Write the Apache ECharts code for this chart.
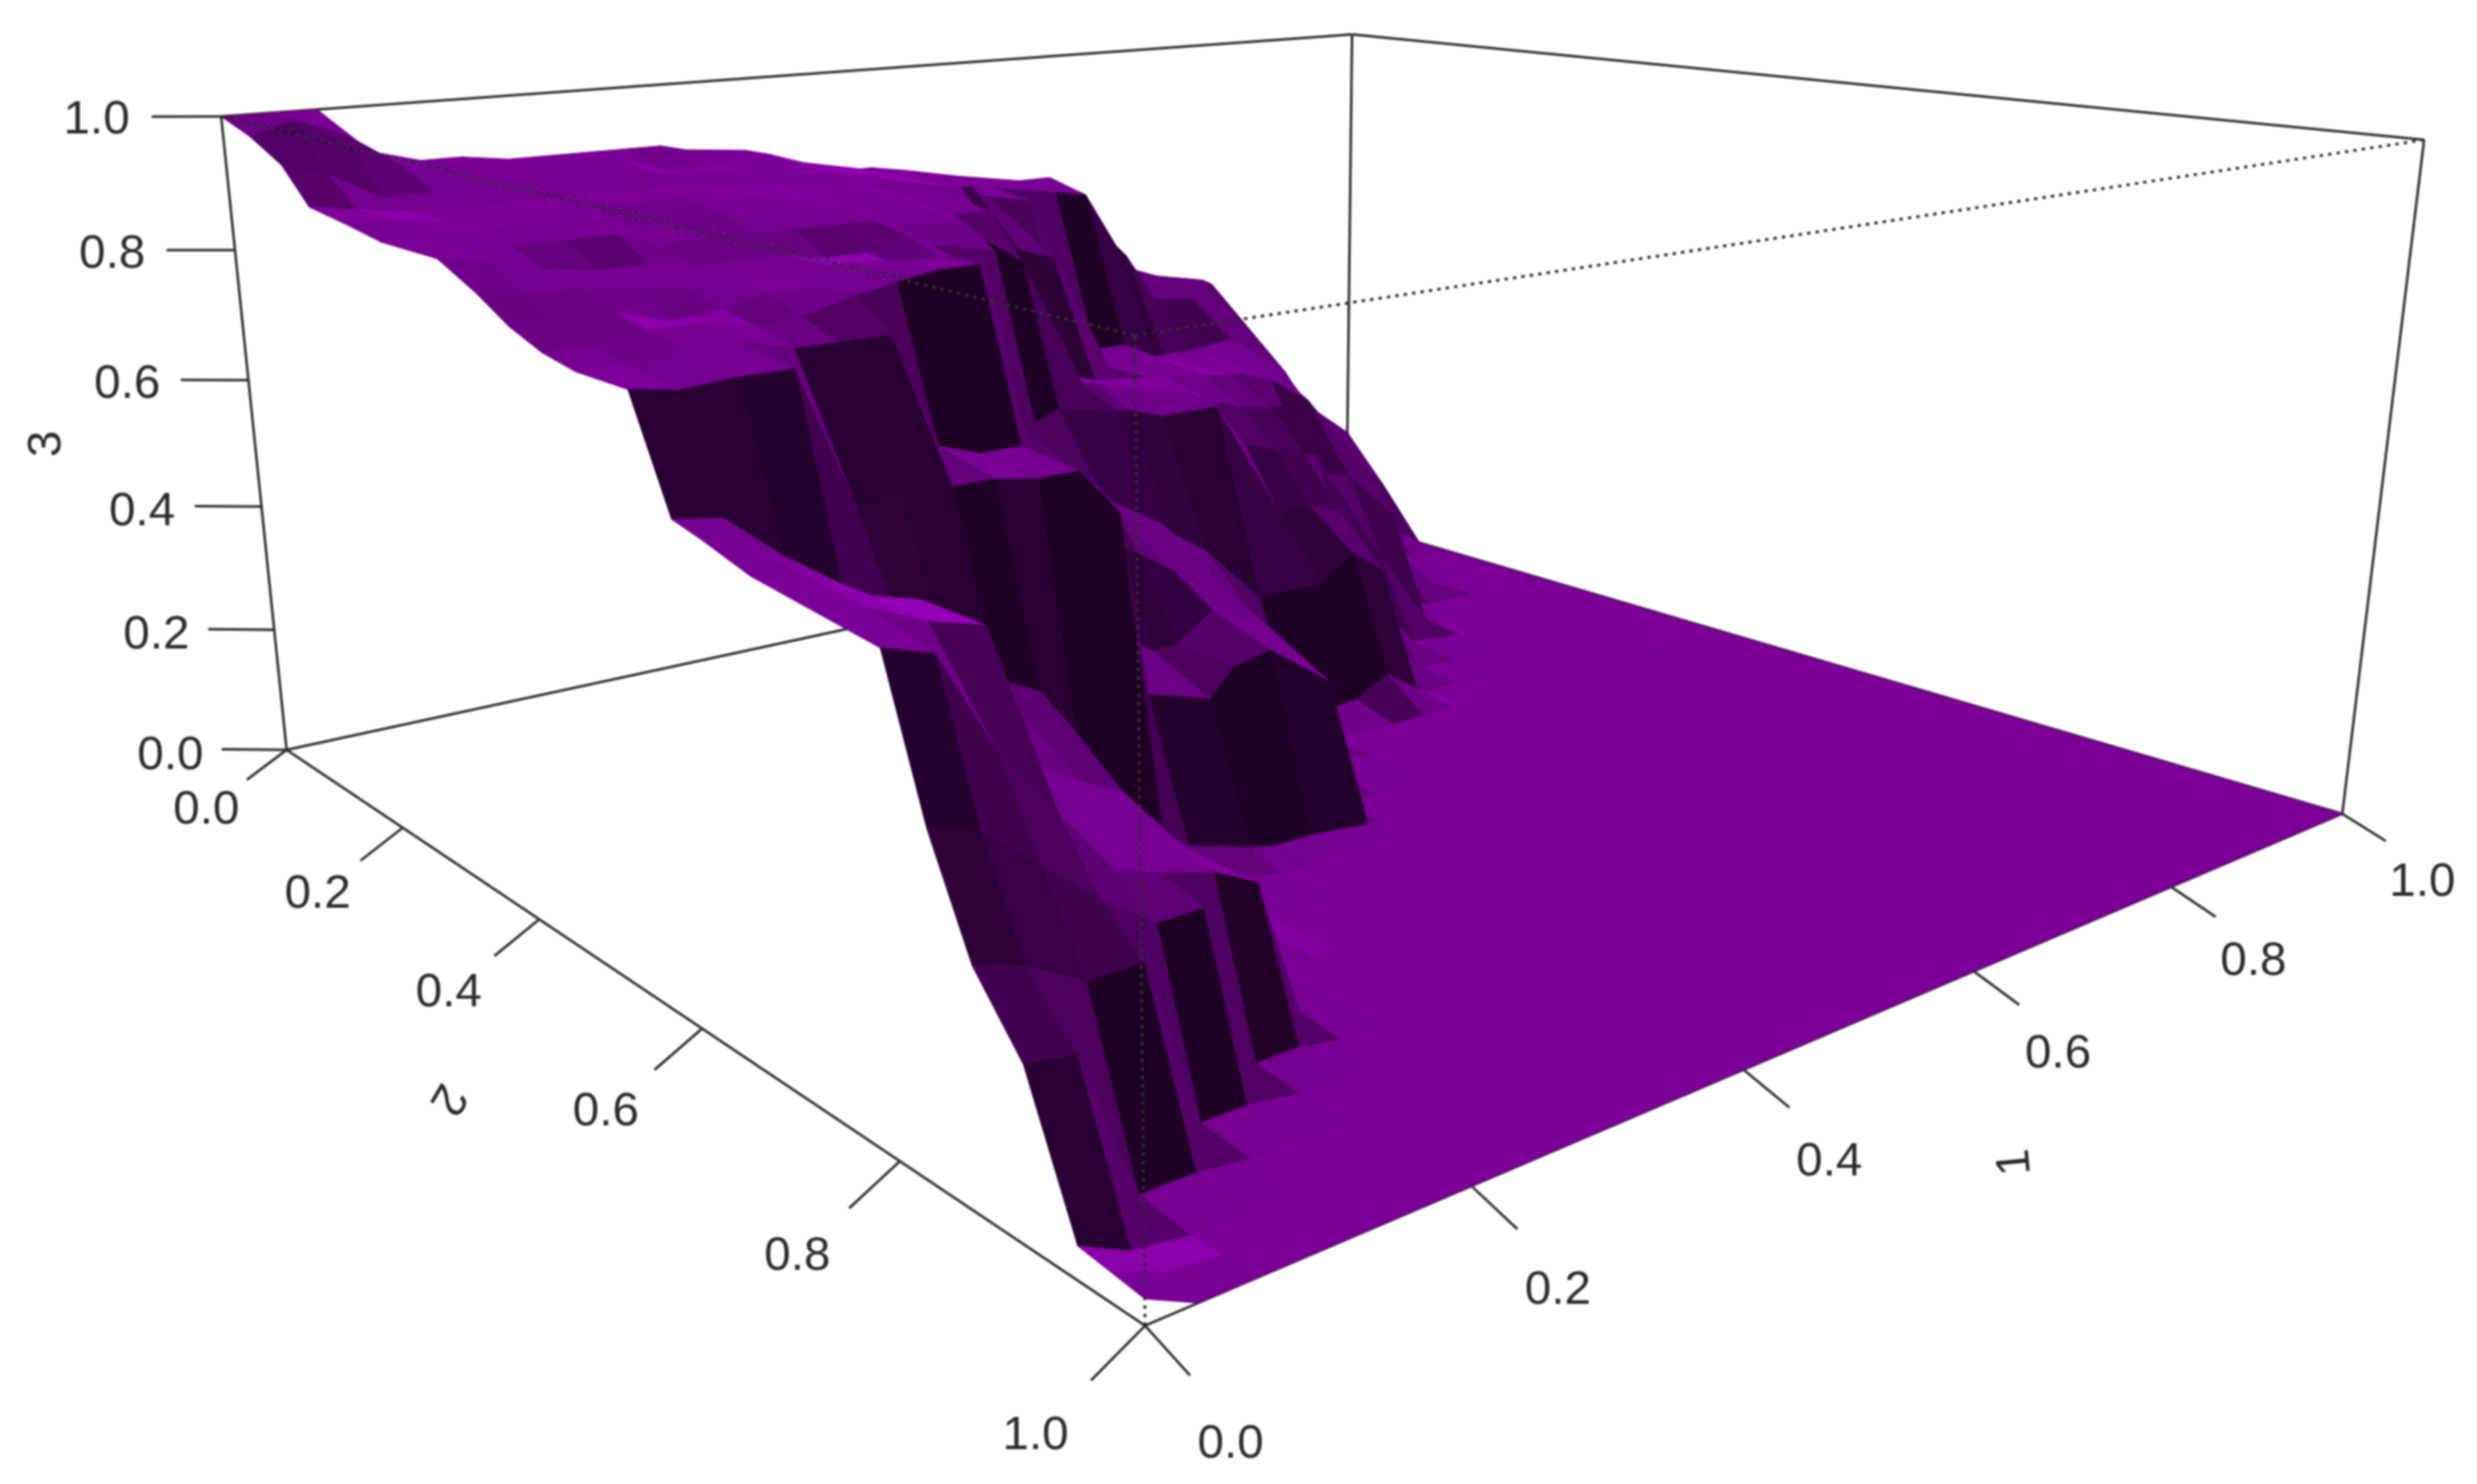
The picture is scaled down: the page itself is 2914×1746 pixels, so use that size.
<!DOCTYPE html>
<html><head><meta charset="utf-8">
<style>html,body{margin:0;padding:0;background:#fff}#chart{width:2914px;height:1746px;filter:blur(1.1px)}</style>
<script src="https://cdn.jsdelivr.net/npm/echarts@6/dist/echarts.min.js"></script>
</head><body><div id="chart"></div>
<script>
const xNodes=[0,.03,.065,.1,.135,.165,.2,.23,.26,.29,.32,.34,.39,.41,.44,.49,.5,.53,.58,.64,.67,.7,.71,.74,.78,.83,.84,.87,.92,.96,1];
const yNodes=[0,.05,.1,.14,.2,.25,.29,.33,.38,.42,.46,.5,.56,.6,.63,.68,.74,.8,.835,.87,.91,.95,.975,1];
// heights per x node, listed along yNodes; anything not listed sits on the floor (0)
const heights=[
[1,.98,.95,.9,.89,.88,.88,.88,.85,.82,.8,.79,.79,.65,.64,.62,.61,.6,.42,.29,.21,.04,.035,.03],
[1,1,.93,.89,.89,.88,.88,.87,.84,.82,.8,.79,.78,.64,.62,.61,.6,.58,.4,.27,.2,.01,.01],
[1,.97,.89,.88,.88,.88,.87,.85,.84,.82,.81,.8,.785,.58,.57,.57,.57,.45,.34,.23,.01],
[.93,.92,.89,.88,.88,.88,.87,.84,.83,.8,.81,.8,.785,.53,.53,.55,.55,.36,.28,.23,.01],
[.91,.9,.89,.88,.88,.88,.87,.84,.82,.805,.795,.78,.6,.47,.38,.34,.3,.27,.23,.01],
[.91,.9,.89,.88,.88,.86,.85,.83,.82,.82,.8,.78,.6,.43,.36,.31,.28,.25,.23,.01],
[.9,.9,.89,.88,.88,.86,.85,.83,.82,.82,.82,.78,.6,.36,.32,.27,.25,.23,.01],
[.9,.9,.89,.88,.88,.87,.85,.83,.83,.83,.83,.62,.6,.33,.3,.24,.2,.2,.01],
[.9,.9,.89,.88,.87,.86,.85,.82,.83,.84,.84,.6,.59,.2,.17,.12,.06,.01],
[.9,.88,.88,.87,.87,.86,.85,.82,.81,.84,.84,.6,.59,.12,.09,.04],
[.9,.88,.88,.87,.86,.86,.85,.84,.81,.83,.6,.56,.52,.08,.05,.01],
[.89,.88,.87,.86,.86,.85,.84,.82,.8,.52,.48,.32,.25,.05,.02],
[.88,.87,.86,.86,.85,.84,.83,.8,.5,.47,.4,.26,.22,.02],
[.87,.86,.86,.85,.84,.83,.8,.52,.48,.46,.38,.26,.26,.01],
[.85,.85,.85,.85,.84,.83,.76,.54,.42,.38,.34,.3,.27,.01],
[.83,.83,.83,.83,.74,.55,.55,.52,.36,.32,.28,.25,.2],
[.83,.83,.83,.83,.74,.55,.55,.52,.34,.3,.24,.1],
[.82,.81,.8,.78,.72,.53,.53,.5,.3,.24,.14,.03],
[.8,.79,.78,.56,.52,.52,.51,.5,.2,.01],
[.78,.77,.5,.49,.48,.46,.4,.3,.2,.02],
[.78,.76,.5,.49,.48,.44,.38,.3,.24,.05],
[.7,.66,.47,.47,.47,.43,.36,.28,.2,.01],
[.68,.64,.47,.47,.47,.43,.36,.2,.06],
[.6,.55,.47,.47,.45,.3,.27,.1,.01],
[.57,.54,.48,.46,.4,.28,.15,.01],
[.55,.48,.42,.36,.28,.19,.01],
[.54,.47,.4,.32,.2,.02],
[.42,.36,.28,.2,.1],
[.32,.26,.14,.05],
[.25,.18,.05],
[.19,.1]
];
const xTicks=[0,.2,.4,.6,.8,1], yTicks=[0,.2,.4,.6,.8,1], zTicks=[0,.2,.4,.6,.8,1];
const axisNames=['1','2','3'];

// pinhole camera of the perspective box (world 0..1 cube -> page plane)
const camera=[[1741.29,505.19,-93.7792,337.203],[-77.6149,93.0298,-754.023,882.276],[.312307,-.374683,-.0645185,1]];
const project=(x,y,z)=>{const w=camera[2][0]*x+camera[2][1]*y+camera[2][2]*z+1;return [(camera[0][0]*x+camera[0][1]*y+camera[0][2]*z+camera[0][3])/w,(camera[1][0]*x+camera[1][1]*y+camera[1][2]*z+camera[1][3])/w];};

const zAt=(i,j)=>heights[i][j]||0;
const cells=[];for(let i=xNodes.length-2;i>=0;i--)for(let j=0;j<yNodes.length-1;j++)cells.push([i,j]);
const L=[.45,-.6,.66];
function shade(d){
 if(d>=.66) return Math.min(1.25,1+(d-.66)*1.5);
 if(d>=.4) return .93+(d-.4)*(.07/.26);
 return Math.max(.25,.27+(d+.45)*(.66/.85));
}
function cellColor(i,j){
 const dx=xNodes[i+1]-xNodes[i],dy=yNodes[j+1]-yNodes[j];
 const zx=((zAt(i+1,j)-zAt(i,j))+(zAt(i+1,j+1)-zAt(i,j+1)))/(2*dx);
 const zy=((zAt(i,j+1)-zAt(i,j))+(zAt(i+1,j+1)-zAt(i+1,j)))/(2*dy);
 const n=Math.hypot(zx,zy,1);const d=(-zx*L[0]-zy*L[1]+L[2])/n;
 const b=shade(d);
 return `rgb(${Math.round(122*b)},0,${Math.round(150*b)})`;
}
const ink='#2f2f2f';
const seg=(api,p,q,dash)=>{const a=api.coord(project(...p)),b=api.coord(project(...q));return {type:'line',shape:{x1:a[0],y1:a[1],x2:b[0],y2:b[1]},style:{stroke:ink,lineWidth:dash?3.4:3,lineDash:dash?[4,6]:null}};};
const txt=(api,p,t,rot,size)=>{const o=api.coord(project(...p));return {type:'text',x:o[0],y:o[1],rotation:rot||0,style:{text:t,x:0,y:0,fill:'#2b2b2b',font:(size||56)+'px "Liberation Sans"',align:'center',verticalAlign:'middle'}};};
const grid3={xAxisIndex:0,yAxisIndex:0};
const backEdges=[[[0,0,0],[0,0,1]],[[0,0,1],[1,0,1]],[[1,0,1],[1,1,1]],[[1,1,1],[1,1,0]],[[1,0,0],[1,0,1]],[[0,0,0],[1,0,0]],[[1,0,0],[1,1,0]],[[0,0,0],[0,1,0]],[[0,1,0],[1,1,0]]];
const frontEdges=[[[0,0,1],[0,1,1]],[[0,1,1],[1,1,1]],[[0,1,0],[0,1,1]]];
const tickLines=[...xTicks.map(t=>[[t,1,0],[t,1.032,-.022]]),...yTicks.map(t=>[[0,t,0],[-.03,t,-.035]]),...zTicks.map(t=>[[0,0,t],[-.045,0,t+.024-.017*t]])];
const labels=[...xTicks.map(t=>[[t,1.06,-.068],t.toFixed(1),0,56]),...yTicks.map(t=>[[-.06,t,-.07],t.toFixed(1),0,56]),...zTicks.map(t=>[[-.08,0,t+.03-.022*t],t.toFixed(1),0,56]),
 [[.5,1.105,-.103],axisNames[0],Math.PI*.53,56],[[-.107,.5,-.105],axisNames[1],-Math.PI*2/3,56],[[-.135,0,.545],axisNames[2],Math.PI/2,56]];
const chart=echarts.init(document.getElementById('chart'),null,{renderer:'canvas'});
chart.setOption({animation:false,backgroundColor:'#fff',
 grid:{left:0,right:0,top:0,bottom:0},
 xAxis:{type:'value',min:0,max:2914,show:false},
 yAxis:{type:'value',min:0,max:1746,inverse:true,show:false},
 series:[
 {type:'custom',...grid3,z:1,clip:false,silent:true,data:backEdges.map((_,i)=>[i]),renderItem:(p,api)=>{const e=backEdges[api.value(0)];return seg(api,e[0],e[1]);}},
 {type:'custom',...grid3,z:2,clip:false,silent:true,progressive:0,data:cells,renderItem:(p,api)=>{const i=api.value(0),j=api.value(1);
   const pts=[[i,j],[i+1,j],[i+1,j+1],[i,j+1]].map(([a,b])=>api.coord(project(xNodes[a],yNodes[b],zAt(a,b))));const col=cellColor(i,j);
   return {type:'polygon',shape:{points:pts},style:{fill:col,stroke:col,lineWidth:1}};}},
 {type:'custom',...grid3,z:3,clip:false,silent:true,data:frontEdges.map((_,i)=>[i]),renderItem:(p,api)=>{const e=frontEdges[api.value(0)];return seg(api,e[0],e[1],true);}},
 {type:'custom',...grid3,z:4,clip:false,silent:true,data:tickLines.map((_,i)=>[i]),renderItem:(p,api)=>{const e=tickLines[api.value(0)];return seg(api,e[0],e[1]);}},
 {type:'custom',...grid3,z:5,clip:false,silent:true,data:labels.map((_,i)=>[i]),renderItem:(p,api)=>{const l=labels[api.value(0)];return txt(api,l[0],l[1],l[2],l[3]);}}
 ]
});
</script></body></html>
